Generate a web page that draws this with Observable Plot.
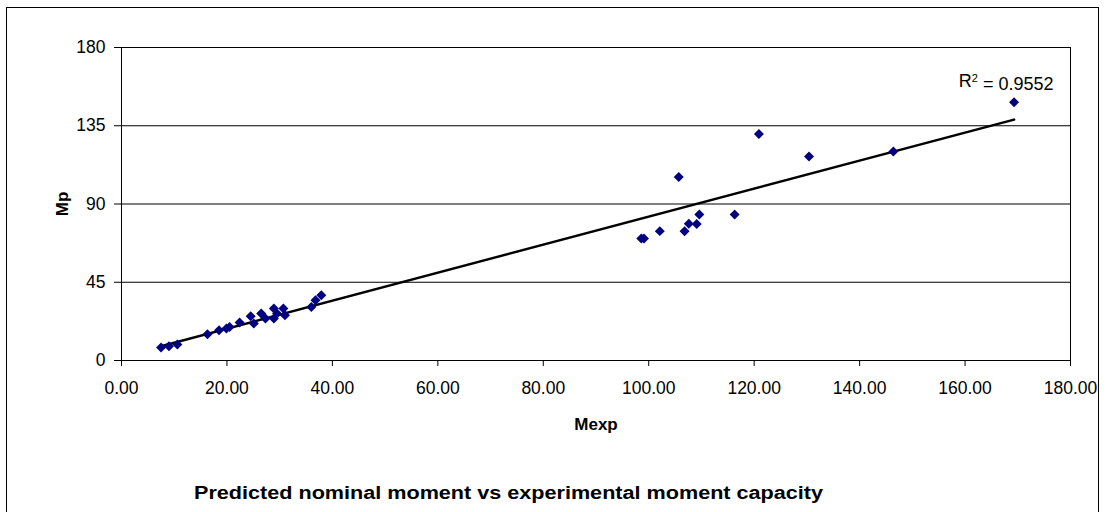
<!DOCTYPE html>
<html>
<head>
<meta charset="utf-8">
<script src="https://cdn.jsdelivr.net/npm/d3@7"></script>
<script src="https://cdn.jsdelivr.net/npm/@observablehq/plot@0.6"></script>
<style>
  html, body { margin: 0; padding: 0; background: #fff; overflow: hidden; }
  body { width: 1111px; height: 512px; position: relative; font-family: "Liberation Sans", Arial, sans-serif; }
  #border { position: absolute; left: 6px; top: 7px; width: 1093px; height: 560px; border: 1px solid #000; box-sizing: border-box; }
  #chart { position: absolute; left: 0; top: 0; }
  #title { position: absolute; left: 194px; top: 483px; font-size: 18px; font-weight: bold; white-space: nowrap; transform: scaleX(1.2); transform-origin: left top; }
  g[aria-label="x-axis label"] text, g[aria-label="y-axis label"] text { font-weight: bold; font-size: 17px; }
</style>
</head>
<body>
<div id="border"></div>
<div id="chart"></div>
<div id="title">Predicted nominal moment vs experimental moment capacity</div>
<script>
// Experimental moment (x) and predicted nominal moment (y)
const mexp = [7.5, 9.0, 10.6, 16.3, 18.5, 19.9, 20.5, 22.4, 24.5, 25.1, 26.5, 27.3, 28.9, 28.9, 29.5, 30.7, 31.0, 36.0, 36.8, 37.9,
              98.6, 99.1, 102.1, 105.7, 106.8, 107.6, 109.1, 109.6, 116.3, 120.9, 130.4, 146.4, 169.3];
const mp   = [7.5, 8.2, 9.2, 15.1, 17.4, 18.4, 19.2, 21.8, 25.4, 21.3, 27.0, 24.1, 29.9, 24.1, 27.0, 29.9, 26.0, 30.8, 34.6, 37.5,
              70.1, 70.1, 74.4, 105.5, 74.3, 78.7, 78.5, 83.9, 83.9, 130.2, 117.3, 120.2, 148.5];
const xTicks = [0, 20, 40, 60, 80, 100, 120, 140, 160, 180];
const yTicks = [0, 45, 90, 135, 180];
const r2Label = "R2 = 0.9552";

const data = mexp.map((x, i) => ({x, y: mp[i]}));

const chart = Plot.plot({
  width: 1111,
  height: 450,
  marginLeft: 121,
  marginRight: 41,
  marginTop: 47,
  marginBottom: 90,
  style: { fontFamily: "'Liberation Sans', Arial, sans-serif", fontSize: "17.5px", color: "#000", background: "transparent" },
  x: { domain: [0, 180], ticks: xTicks, tickFormat: d => d.toFixed(2), tickSize: 6, tickPadding: 15,
       label: "Mexp", labelAnchor: "center", labelArrow: "none", labelOffset: 69 },
  y: { domain: [0, 180], ticks: yTicks, tickSize: 7, tickPadding: 9,
       label: "Mp", labelAnchor: "center", labelArrow: "none", labelOffset: 66 },
  marks: [
    Plot.gridY(yTicks, { stroke: "#000", strokeOpacity: 1, strokeWidth: 1 }),
    Plot.frame({ stroke: "#000", strokeWidth: 1 }),
    Plot.linearRegressionY(data, { x: "x", y: "y", stroke: "#000", strokeWidth: 2.5, ci: 0 }),
    Plot.dot(data, { x: "x", y: "y", symbol: "diamond2", r: 4.5, fill: "#000080", stroke: "none" }),
    Plot.text([r2Label], { frameAnchor: "top-right", dx: -17, dy: 27, text: d => d, fontSize: 18, textAnchor: "end" })
  ]
});
document.getElementById("chart").appendChild(chart);

// render the "2" of R2 as a superscript
d3.select(chart).selectAll("text").filter(function () { return this.textContent === r2Label; })
  .each(function () {
    const t = d3.select(this);
    t.text(null);
    t.append("tspan").text("R");
    t.append("tspan").attr("dy", "-0.45em").attr("font-size", "11px").text("2");
    t.append("tspan").attr("dy", "0.45em").text(" = 0.9552");
  });
</script>
</body>
</html>
